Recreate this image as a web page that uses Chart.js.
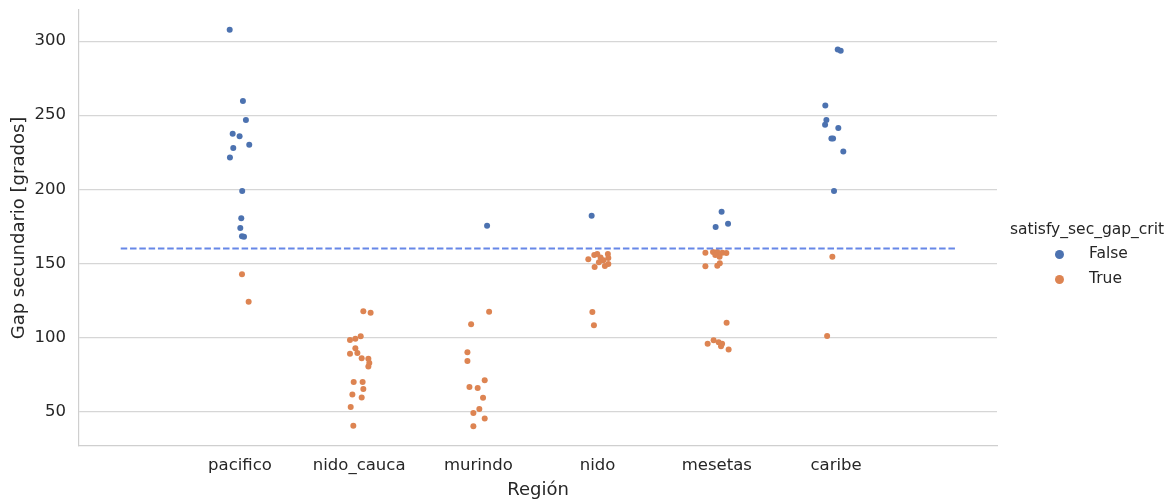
<!DOCTYPE html>
<html>
<head>
<meta charset="utf-8">
<script src="https://cdn.jsdelivr.net/npm/chart.js@4.4.0/dist/chart.umd.min.js"></script>
<style>
  html, body { margin: 0; padding: 0; background: #ffffff; }
  #wrap { position: relative; width: 1176px; height: 501px; }
  #c { position: absolute; left: 0; top: 0; }
  .lg { position: absolute; font-family: "DejaVu Sans", sans-serif; color: #262626; font-size: 15.5px; line-height: 1; white-space: nowrap; }
  .dot { position: absolute; width: 9px; height: 9px; border-radius: 50%; }
</style>
</head>
<body>
<div id="wrap">
  <canvas id="c" width="1176" height="501"></canvas>
  <div id="legend"></div>
</div>
<script>
// ---- data ----
const categories = ["pacifico", "nido_cauca", "murindo", "nido", "mesetas", "caribe"];
const yTicks = [50, 100, 150, 200, 250, 300];
const threshold = 160;
const thresholdFrom = -1;
const thresholdTo = 6;
const seriesNames = ["False", "True"];
const legendTitle = "satisfy_sec_gap_crit";

// satisfy_sec_gap_crit = False
const falseRegion = [0,0,0,0,0,0,0,0,0,0,0,0,0, 2, 3, 4,4,4, 5,5,5,5,5,5,5,5,5,5];
const falseJitter = [-0.086,0.025,0.050,-0.061,-0.003,0.078,-0.056,-0.084,0.019,0.011,0.003,0.017,0.034,
                     0.073, -0.050, 0.040,0.094,-0.010,
                     0.014,0.039,-0.090,-0.081,-0.092,0.019,-0.039,-0.025,0.061,-0.017];
const falseGap = [307.6,259.6,246.8,237.4,235.8,230.0,227.8,221.4,198.9,180.5,173.8,168.2,168.0,
                  175.4, 182.1, 184.8,176.8,174.5,
                  294.4,293.5,256.5,246.8,243.5,241.4,234.2,234.2,225.5,198.9];

// satisfy_sec_gap_crit = True
const trueRegion = [0,0,
  1,1,1,1,1,1,1,1,1,1,1,1,1,1,1,1,1,1,1,
  2,2,2,2,2,2,2,2,2,2,2,2,
  3,3,3,3,3,3,3,3,3,3,3,3,3,
  4,4,4,4,4,4,4,4,4,4,4,4,4,4,4,4,4,
  5,5];
const trueJitter = [0.017,0.073,
  0.035,0.096,0.013,-0.032,-0.077,-0.032,-0.015,-0.077,0.021,0.077,0.085,0.077,-0.046,0.029,0.035,-0.057,0.021,-0.071,-0.049,
  0.090,-0.061,-0.092,-0.092,0.053,-0.075,-0.006,0.039,0.008,-0.042,0.053,-0.042,
  -0.078,-0.028,-0.003,0.025,0.048,0.086,0.090,0.061,0.090,-0.025,0.011,-0.044,-0.031,
  -0.096,-0.032,0.004,0.046,0.080,-0.013,0.023,-0.096,0.004,0.025,0.082,-0.077,-0.027,0.015,0.044,0.035,0.099,
  -0.031,-0.075];
const trueGap = [142.6,124.1,
  117.7,116.6,100.7,99.1,98.2,92.6,89.4,89.0,86.0,85.6,82.7,80.3,69.9,69.9,65.2,61.4,59.4,53.1,40.3,
  117.3,108.8,89.9,84.0,71.0,66.5,65.8,59.3,51.7,49.0,45.2,40.1,
  152.7,155.7,156.3,154.0,152.0,156.3,153.6,148.2,149.6,147.6,150.7,117.2,108.2,
  157.2,157.6,157.6,157.2,157.0,155.6,154.5,148.0,148.3,150.0,109.9,95.7,98.0,96.8,95.7,94.1,91.9,
  154.5,101.0];

// ---- styling ----
const colFalse = "#4c72b0";
const colTrue = "#dd8452";
const colLine = "#6787e7";
const txt = "#262626";
const gridCol = "#d6d6d6";
const FONT = "'DejaVu Sans', sans-serif";

function pts(region, jitter, vals) {
  return vals.map((v, i) => ({ x: region[i] + jitter[i], y: v }));
}

const ctx = document.getElementById("c").getContext("2d");
new Chart(ctx, {
  type: "scatter",
  data: {
    datasets: [
      {
        label: seriesNames[0],
        data: pts(falseRegion, falseJitter, falseGap),
        backgroundColor: colFalse,
        borderWidth: 0,
        pointRadius: 3,
        pointHoverRadius: 3,
        order: 2
      },
      {
        label: seriesNames[1],
        data: pts(trueRegion, trueJitter, trueGap),
        backgroundColor: colTrue,
        borderWidth: 0,
        pointRadius: 3,
        pointHoverRadius: 3,
        order: 2
      },
      {
        type: "line",
        label: "threshold",
        data: [{ x: thresholdFrom, y: threshold }, { x: thresholdTo, y: threshold }],
        borderColor: colLine,
        borderWidth: 1.8,
        borderDash: [6.5, 2.8],
        pointRadius: 0,
        fill: false,
        order: 1
      }
    ]
  },
  options: {
    responsive: false,
    animation: false,
    events: [],
    layout: { padding: { left: 0, top: 10, right: 179, bottom: 0 } },
    plugins: { legend: { display: false }, tooltip: { enabled: false } },
    scales: {
      x: {
        type: "linear",
        min: -1.35,
        max: 6.35,
        afterBuildTicks: (s) => { s.ticks = categories.map((c, i) => ({ value: i })); },
        afterFit: (s) => { s.height = 55; s.paddingLeft = 0; s.paddingRight = 0; },
        ticks: {
          callback: (v) => categories[v],
          color: txt,
          font: { family: FONT, size: 16.5 },
          padding: 10,
          maxRotation: 0,
          autoSkip: false
        },
        grid: { display: false, drawTicks: false },
        border: { display: true, color: "#cfcfcf", width: 1.2 },
        title: {
          display: true,
          text: "Región",
          color: txt,
          font: { family: FONT, size: 18 },
          padding: { top: 0, bottom: 0 }
        }
      },
      y: {
        type: "linear",
        min: 26.7,
        max: 321,
        afterBuildTicks: (s) => { s.ticks = yTicks.map((v) => ({ value: v })); },
        afterFit: (s) => { s.width = 79; s.paddingTop = 0; s.paddingBottom = 0; },
        ticks: {
          color: txt,
          font: { family: FONT, size: 16.5 },
          padding: 13
        },
        grid: { display: true, color: gridCol, lineWidth: 1.2, drawTicks: false },
        border: { display: true, color: "#cfcfcf", width: 1.2 },
        title: {
          display: true,
          text: "Gap secundario [grados]",
          color: txt,
          font: { family: FONT, size: 18 },
          padding: { top: 9, bottom: 0 }
        }
      }
    }
  }
});

// ---- legend (HTML text) ----
const lg = document.getElementById("legend");
const title = document.createElement("div");
title.className = "lg";
title.textContent = legendTitle;
title.style.left = "1087px";
title.style.top = "222px";
title.style.transform = "translateX(-50%)";
lg.appendChild(title);
const legendCols = [colFalse, colTrue];
seriesNames.forEach((name, i) => {
  const yc = 254 + i * 25;
  const d = document.createElement("div");
  d.className = "dot";
  d.style.background = legendCols[i];
  d.style.left = (1059 - 4.5) + "px";
  d.style.top = (yc - 4.5) + "px";
  lg.appendChild(d);
  const t = document.createElement("div");
  t.className = "lg";
  t.textContent = name;
  t.style.left = "1089px";
  t.style.top = (yc - 8) + "px";
  lg.appendChild(t);
});
</script>
</body>
</html>
